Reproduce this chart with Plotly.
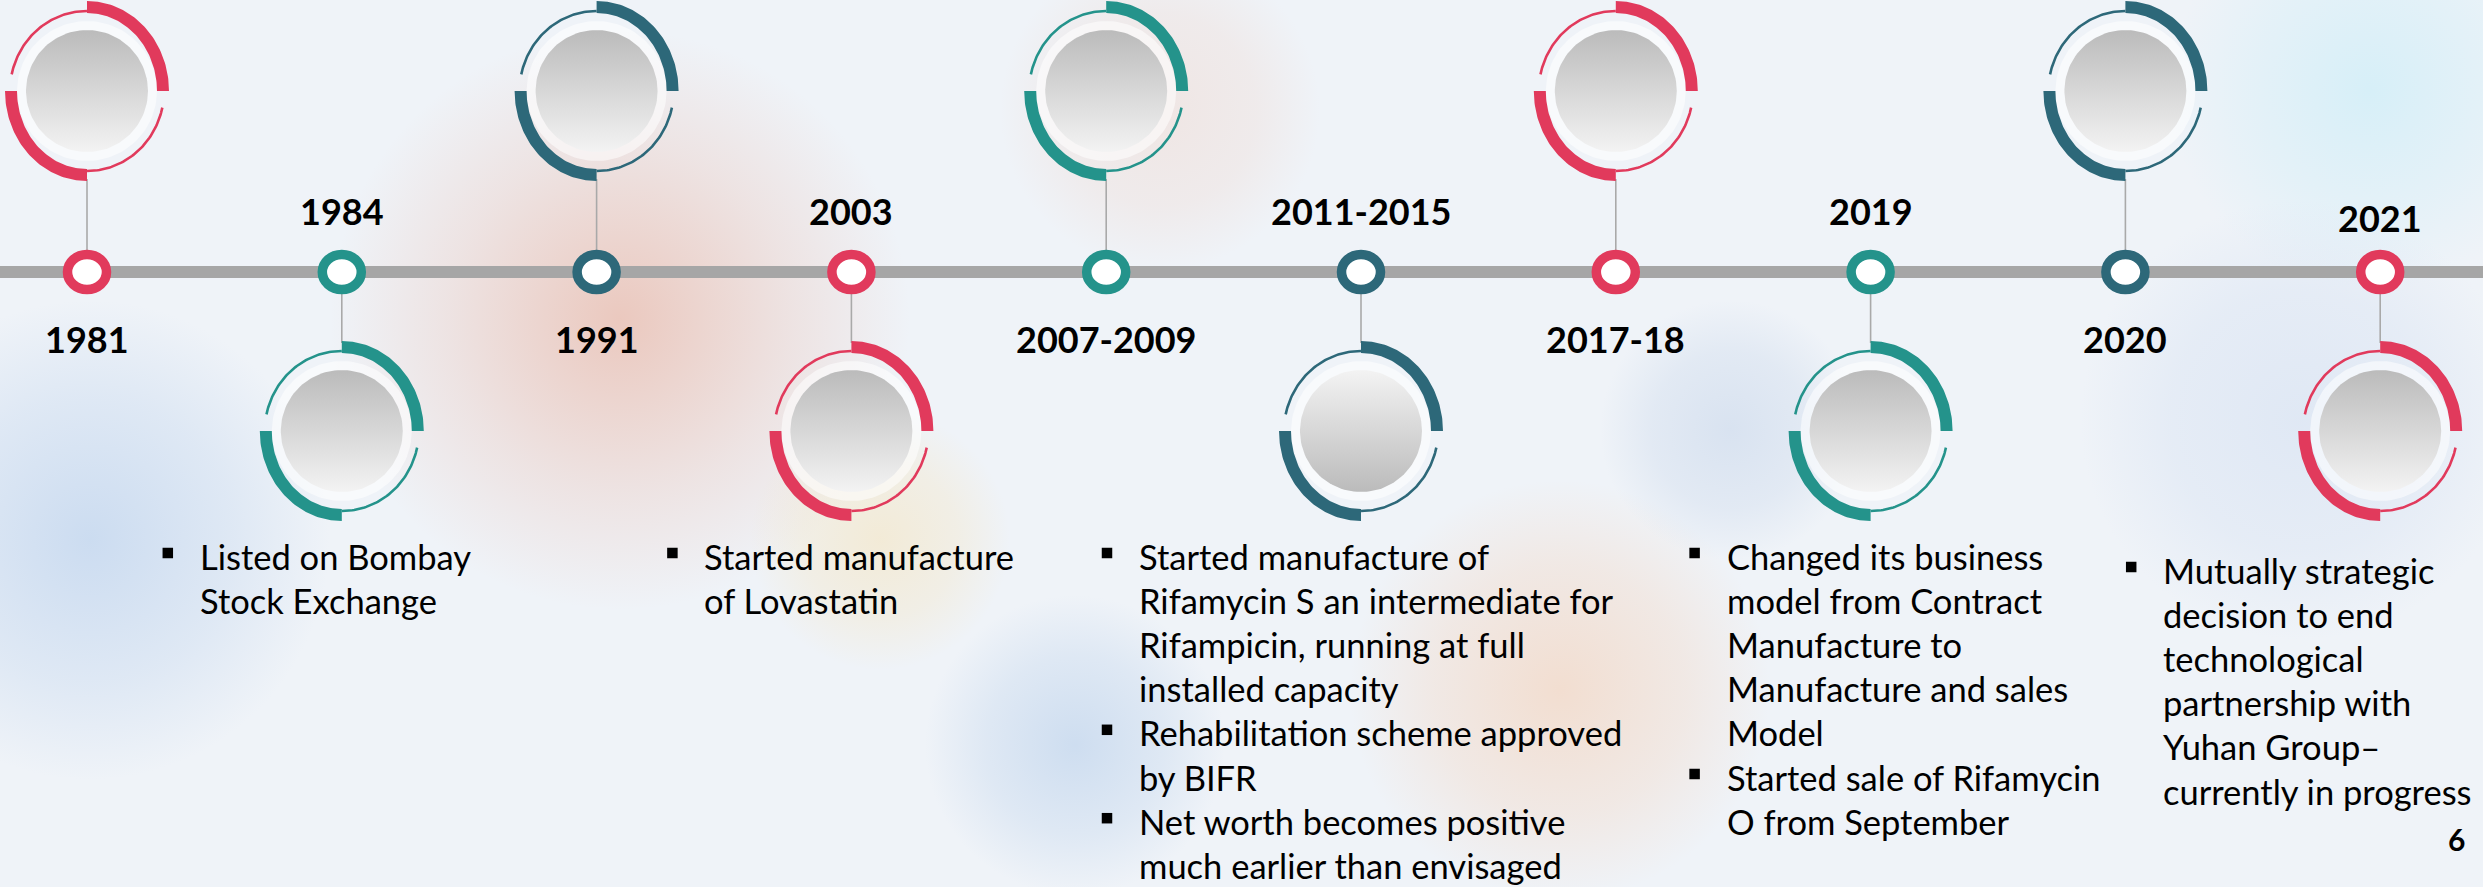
import numpy as np
import plotly.graph_objects as go

# ---------------- data ----------------
years = ["1981", "1984", "1991", "2003", "2007-2009", "2011-2015",
         "2017-18", "2019", "2020", "2021"]
circle_side = ["up", "down", "up", "down", "up", "down", "up", "down", "up", "down"]
accent_names = ["red", "teal", "navy", "red", "teal", "navy", "red", "teal", "navy", "red"]
disc_shade = ["light_top"] * 5 + ["dark_top"] + ["light_top"] * 4

notes_1984 = [["Listed on Bombay", "Stock Exchange"]]
notes_2003 = [["Started manufacture", "of Lovastatin"]]
notes_2011_2015 = [
    ["Started manufacture of", "Rifamycin S an intermediate for",
     "Rifampicin, running at full", "installed capacity"],
    ["Rehabilitation scheme approved", "by BIFR"],
    ["Net worth becomes positive", "much earlier than envisaged"],
]
notes_2019 = [
    ["Changed its business", "model from Contract", "Manufacture to",
     "Manufacture and sales", "Model"],
    ["Started sale of Rifamycin", "O from September"],
]
notes_2021 = [
    ["Mutually strategic", "decision to end", "technological",
     "partnership with", "Yuhan Group\u2013", "currently in progress"],
]
notes = {"1984": notes_1984, "2003": notes_2003, "2011-2015": notes_2011_2015,
         "2019": notes_2019, "2021": notes_2021}
page_number = "6"

# ---------------- styles / layout ----------------
palette = {"red": "#E13A5C", "teal": "#24938B", "navy": "#2D6879"}
W, H = 2483, 887
X0, STEP = 87.0, 254.8          # pixel position of first event and spacing
LINE_Y = 272
CY = {"up": 91, "down": 431}
LABEL_Y = {"up": 339, "down": 211}   # label opposite to circle
text_offset = {"1984": -144, "2003": -149, "2011-2015": -224, "2019": -146, "2021": -219}
first_line_y = {"1984": 556, "2003": 556, "2011-2015": 556, "2019": 556, "2021": 570}
LINE_H = 44.2
FONT = "Lato"


def xd(i, dx):
    return i + dx / STEP


def xp(px):
    return (px - X0) / STEP


fig = go.Figure()

# ---------------- faint background blobs ----------------
blobs = [
    (620, 320, 290, "rgba(232,172,152,0.60)"),
    (90, 540, 240, "rgba(165,195,232,0.48)"),
    (1075, 745, 150, "rgba(165,195,230,0.45)"),
    (1560, 690, 210, "rgba(246,196,160,0.45)"),
    (1730, 430, 130, "rgba(180,200,228,0.38)"),
    (2370, 90, 200, "rgba(190,235,248,0.50)"),
    (1160, 110, 160, "rgba(240,205,190,0.35)"),
    (2300, 420, 220, "rgba(195,212,238,0.35)"),
    (880, 540, 130, "rgba(248,222,165,0.40)"),
]
tt = np.linspace(0, 2 * np.pi, 120)
for bx, by, br, bc in blobs:
    base = bc.rsplit(",", 1)[0]
    fig.add_trace(go.Scatter(
        x=xp(bx) + br * np.cos(tt) / STEP, y=by + br * np.sin(tt),
        mode="lines", line=dict(width=0), fill="toself",
        fillgradient=dict(type="radial",
                          colorscale=[[0, bc], [0.6, base + ",0.22)"], [1, base + ",0)"]]),
        hoverinfo="skip", showlegend=False))

# ---------------- timeline ----------------
fig.add_trace(go.Scatter(x=[xp(0), xp(W)], y=[LINE_Y, LINE_Y], mode="lines",
                         line=dict(color="#A6A6A6", width=12),
                         hoverinfo="skip", showlegend=False))

# connectors
for i, side in enumerate(circle_side):
    if side == "up":
        ys = [CY["up"] + 88, LINE_Y - 22]
    else:
        ys = [LINE_Y + 22, CY["down"] - 88]
    fig.add_trace(go.Scatter(x=[i, i], y=ys, mode="lines",
                             line=dict(color="#A9A9A9", width=1.6),
                             hoverinfo="skip", showlegend=False))

# ---------------- big circles ----------------
RXO, RYO, RXI, RYI = 82, 90, 70, 78
RT_X, RT_Y = 77, 80
R_DISC = 61
for i, (side, cname, shade) in enumerate(zip(circle_side, accent_names, disc_shade)):
    col = palette[cname]
    cy = CY[side]
    fig.add_trace(go.Scatter(
        x=xd(i, 70 * np.cos(tt)), y=cy + 70 * np.sin(tt), mode="lines",
        line=dict(width=0), fill="toself", fillcolor="rgba(255,255,255,0.55)",
        hoverinfo="skip", showlegend=False))
    for a0, a1 in [(0, 90), (180, 270)]:
        t = np.radians(np.linspace(a0, a1, 60))
        xo = xd(i, RXO * np.cos(t)); yo = cy - RYO * np.sin(t)
        xi = xd(i, RXI * np.cos(t[::-1])); yi = cy - RYI * np.sin(t[::-1])
        fig.add_trace(go.Scatter(
            x=np.concatenate([xo, xi]), y=np.concatenate([yo, yi]),
            mode="lines", line=dict(width=0), fill="toself", fillcolor=col,
            hoverinfo="skip", showlegend=False))
    for a0, a1 in [(90, 168), (270, 348)]:
        t = np.radians(np.linspace(a0, a1, 60))
        fig.add_trace(go.Scatter(
            x=xd(i, RT_X * np.cos(t)), y=cy - RT_Y * np.sin(t),
            mode="lines", line=dict(color=col, width=2.6),
            hoverinfo="skip", showlegend=False))
    if shade == "light_top":
        cs = [[0, "#F3F3F3"], [1, "#BBBBBB"]]
    else:
        cs = [[0, "#BBBBBB"], [1, "#F3F3F3"]]
    fig.add_trace(go.Scatter(
        x=xd(i, R_DISC * np.cos(tt)), y=cy + R_DISC * np.sin(tt),
        mode="lines", line=dict(width=0), fill="toself",
        fillgradient=dict(type="vertical", colorscale=cs),
        hoverinfo="skip", showlegend=False))

# ---------------- small ring markers ----------------
for i, cname in enumerate(accent_names):
    fig.add_shape(type="circle", xref="x", yref="y",
                  xsizemode="pixel", ysizemode="pixel",
                  xanchor=i, yanchor=LINE_Y,
                  x0=-19.5, x1=19.5, y0=-17.5, y1=17.5,
                  line=dict(color=palette[cname], width=9.5),
                  fillcolor="white", layer="above")

# ---------------- year labels ----------------
for i, (yr, side) in enumerate(zip(years, circle_side)):
    ly = LABEL_Y[side]
    if yr == "2021":
        ly += 7
    fig.add_annotation(x=i, y=ly, text=yr, showarrow=False,
                       xanchor="center", yanchor="middle",
                       font=dict(family=FONT, size=36, color="black", weight=700))

# ---------------- notes ----------------
bx_list, by_list = [], []
for i, yr in enumerate(years):
    if yr not in notes:
        continue
    tx = xd(i, text_offset[yr])
    y = first_line_y[yr]
    for bullet in notes[yr]:
        bx_list.append(xd(i, text_offset[yr] - 30))
        by_list.append(y - 3)
        for line in bullet:
            fig.add_annotation(x=tx, y=y, text=line, showarrow=False,
                               xanchor="left", yanchor="middle",
                               font=dict(family=FONT, size=34.5, color="black"))
            y += LINE_H
fig.add_trace(go.Scatter(x=bx_list, y=by_list, mode="markers",
                         marker=dict(symbol="square", size=10.5, color="black"),
                         hoverinfo="skip", showlegend=False))

# page number
fig.add_annotation(x=xp(2456), y=839, text=page_number, showarrow=False,
                   xanchor="center", yanchor="middle",
                   font=dict(family=FONT, size=30, color="black", weight=700))

fig.update_layout(
    width=W, height=H, margin=dict(l=0, r=0, t=0, b=0),
    paper_bgcolor="#EFF3F8", plot_bgcolor="rgba(0,0,0,0)",
    showlegend=False,
    xaxis=dict(range=[xp(0), xp(W)], visible=False, fixedrange=True),
    yaxis=dict(range=[H, 0], visible=False, fixedrange=True),
)
fig.write_html(
    "out.html",
    config={"displayModeBar": False},
    post_script="document.body.style.margin='0';"
                "document.body.style.overflow='hidden';"
                "document.body.style.background='#EFF3F8';",
)
